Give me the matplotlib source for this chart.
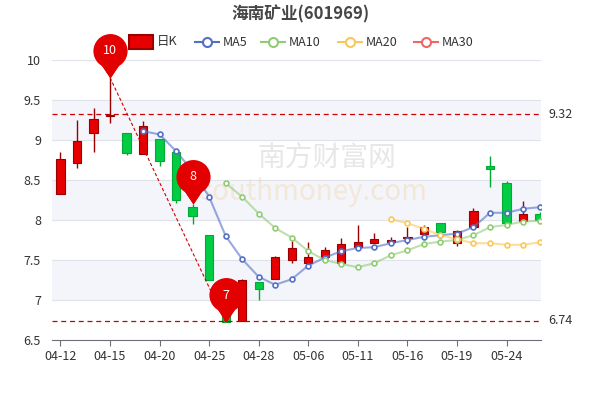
import matplotlib
matplotlib.use("Agg")
import matplotlib.pyplot as plt
import numpy as np
from matplotlib.path import Path

plt.rcParams['font.family'] = ['Noto Sans CJK SC', 'DejaVu Sans']

dates = ["04-12","04-13","04-14","04-15","04-18","04-19","04-20","04-21","04-22","04-25",
         "04-26","04-27","04-28","04-29","05-05","05-06","05-09","05-10","05-11","05-12",
         "05-13","05-16","05-17","05-18","05-19","05-20","05-23","05-24","05-25","05-26"]
opens  = [8.33,8.71,9.09,9.30,9.09,8.82,9.01,8.85,8.16,7.81,6.86,6.74,7.22,7.26,7.50,7.46,7.54,7.46,7.66,7.71,7.72,7.77,7.82,7.96,7.71,7.91,8.68,8.46,7.99,8.07]
closes = [8.76,8.99,9.26,9.31,8.84,9.17,8.74,8.25,8.05,7.25,6.73,7.25,7.14,7.54,7.65,7.54,7.62,7.70,7.72,7.76,7.75,7.79,7.91,7.85,7.86,8.11,8.64,7.96,8.07,8.00]
highs  = [8.85,9.25,9.40,9.78,9.09,9.24,9.01,8.85,8.20,7.81,6.90,7.26,7.22,7.55,7.74,7.72,7.66,7.78,7.94,7.84,7.79,7.91,7.94,7.96,7.88,8.15,8.80,8.49,8.24,8.10]
lows   = [8.33,8.65,8.85,9.21,8.81,8.82,8.67,8.21,7.95,7.25,6.72,6.74,7.00,7.26,7.46,7.46,7.54,7.46,7.66,7.71,7.72,7.70,7.82,7.85,7.68,7.91,8.41,7.96,7.99,7.98]
ma5 = [None]*5 + [9.11,9.07,8.86,8.61,8.29,7.80,7.51,7.29,7.19,7.26,7.43,7.53,7.61,7.65,7.66,7.71,7.75,7.79,7.81,7.83,7.91,8.09,8.09,8.14,8.16]
ma10 = [None]*10 + [8.46,8.29,8.08,7.90,7.78,7.61,7.50,7.45,7.41,7.46,7.56,7.62,7.70,7.73,7.75,7.81,7.91,7.94,7.98,7.99]
ma20 = [None]*20 + [8.01,7.96,7.89,7.81,7.76,7.71,7.71,7.69,7.69,7.72]
hline_vals = [9.32, 6.74]
pins = [(3, 9.78, "10"), (8, 8.20, "8"), (10, 6.72, "7")]

UP = "#e60000"; DOWN = "#00cc44"
fig = plt.figure(figsize=(6, 4), dpi=100)
ax = fig.add_axes([0.087, 0.15, 0.815, 0.70])
x = np.arange(len(dates))
ax.set_xlim(-0.5, 29.1)
ax.set_ylim(6.5, 10)
for lo in [9.0, 8.0, 7.0]:
    ax.axhspan(lo, lo + 0.5, color="#f3f5fa", zorder=0)
for y in np.arange(6.5, 10.01, 0.5):
    ax.axhline(y, color="#e0e3ea", lw=0.8, zorder=0.5)

for i in x:
    o, c, h, l = opens[i], closes[i], highs[i], lows[i]
    col = UP if c >= o else DOWN
    ec = "#990000" if c >= o else "#00aa33"
    ax.vlines(i, l, h, color=ec, lw=1, zorder=2)
    b = max(abs(c - o), 0.012)
    ax.bar(i, b, bottom=min(o, c), width=0.5, color=col, edgecolor=ec, lw=0.8, zorder=3)

def ma_plot(vals, color):
    xs = [i for i, v in enumerate(vals) if v is not None]
    ys = [v for v in vals if v is not None]
    ax.plot(xs, ys, color=color, lw=1.5, alpha=0.6, zorder=4)
    ax.plot(xs, ys, 'o', mfc="white", mec=color, mew=1.2, ms=3.5, zorder=5)
ma_plot(ma5, "#5470c6")
ma_plot(ma10, "#91cc75")
ma_plot(ma20, "#fac858")

for v in hline_vals:
    ax.axhline(v, color="#cc0000", ls=(0, (4, 3)), lw=0.9, zorder=6)
    ax.annotate(f"{v:.2f}", xy=(1, v), xycoords=("axes fraction", "data"),
                xytext=(5, 0), textcoords="offset points", va="center", fontsize=9, color="#333")
ax.plot([3, 10], [9.78, 6.72], color="#cc0000", ls=(0, (3, 2)), lw=0.8, zorder=6)

circ = Path.circle((0, 1.6), 1.0)
tri = Path([(0, 0), (0.6, 0.9), (-0.6, 0.9), (0, 0)], [Path.MOVETO, Path.LINETO, Path.LINETO, Path.CLOSEPOLY])
tri2 = Path([(0, 0), (-0.6, 0.9), (0.6, 0.9), (0, 0)], [Path.MOVETO, Path.LINETO, Path.LINETO, Path.CLOSEPOLY])
for i, v, t in pins:
    for shape in (circ, tri, tri2):
        full = Path.make_compound_path(shape, Path([(0, 2.6), (0, -2.6)], [Path.MOVETO, Path.MOVETO]))
        ax.plot(i, v, marker=full, ms=64, color="#e30000", mec="none", zorder=8, clip_on=False)
    ax.annotate(t, xy=(i, v), xytext=(0, 19.5), textcoords="offset points", ha="center", va="center",
                color="white", fontsize=9, zorder=9)

ax.text(0.42, 0.62, "南方财富网", transform=ax.transAxes, fontsize=20, color="#bbbbbb", alpha=0.35, zorder=1)
ax.text(0.30, 0.50, "southmoney.com", transform=ax.transAxes, fontsize=20, color="#f5c98a",
        alpha=0.3, style="italic", zorder=1)

ticks = list(range(0, 30, 3))
ax.set_xticks(ticks)
ax.set_xticklabels([dates[i] for i in ticks], fontsize=9, color="#333")
ax.set_yticks(np.arange(6.5, 10.01, 0.5))
ax.set_yticklabels(["6.5", "7", "7.5", "8", "8.5", "9", "9.5", "10"], fontsize=9, color="#333")
for s in ["top", "right", "left"]:
    ax.spines[s].set_visible(False)
ax.spines["bottom"].set_color("#6e7079")
ax.tick_params(axis="y", length=0, pad=8)
ax.tick_params(axis="x", color="#6e7079", length=4)

fig.text(0.5, 0.965, "海南矿业(601969)", ha="center", va="center", fontsize=12, fontweight="bold", color="#464646")
ly = 0.895
fig.patches.append(plt.Rectangle((0.215, ly - 0.018), 0.04, 0.036, transform=fig.transFigure,
                                 facecolor=UP, edgecolor="#990000", lw=1.5))
fig.text(0.262, ly, "日K", va="center", fontsize=9, color="#333")
for xp, col, lab in [(0.325, "#5470c6", "MA5"), (0.435, "#91cc75", "MA10"), (0.563, "#fac858", "MA20"), (0.69, "#ee6666", "MA30")]:
    fig.lines.append(plt.Line2D([xp, xp + 0.04], [ly, ly], transform=fig.transFigure, color=col, lw=1.5))
    fig.lines.append(plt.Line2D([xp + 0.02], [ly], transform=fig.transFigure, marker="o", ms=6.5,
                                mfc="white", mec=col, mew=1.5))
    fig.text(xp + 0.047, ly, lab, va="center", fontsize=9, color="#333")

fig.savefig("out.png")
